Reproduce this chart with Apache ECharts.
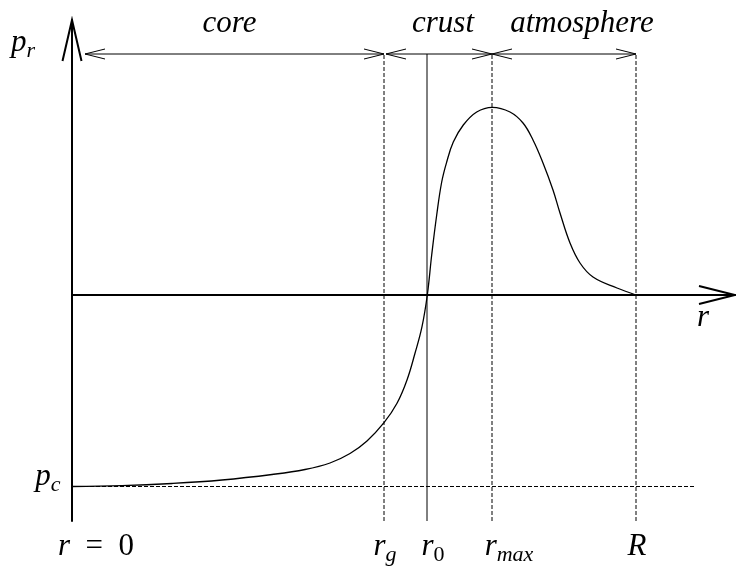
<!DOCTYPE html>
<html><head><meta charset="utf-8">
<script src="https://cdn.jsdelivr.net/npm/echarts@6/dist/echarts.min.js"></script>
<style>html,body{margin:0;padding:0;background:#fff}#c{width:736px;height:567px}</style>
</head><body><div id="c"></div>
<script>
// ---------- data ----------
const curveR = [0, 50, 100, 150, 200, 233, 258, 278, 295, 312, 325, 335, 343, 350, 355.3, 359.7, 364.7, 369.7, 374.7, 381.3, 391.3, 404.7, 420.3, 438, 451, 461, 471, 481, 488, 498, 508, 521, 545, 564];
const curveP = [-191.5, -190.7, -188.5, -185, -179.5, -174.5, -168, -158.5, -146, -127.7, -108.3, -85, -58.3, -31.7, 0, 40, 80, 113, 133, 153, 170, 183, 187.7, 183, 172, 155, 132, 105, 82, 52, 32, 18, 7, 0];
const boundaryR = [312, 355, 420, 564];          // r_g, r_0, r_max, R
const boundaryDashed = [true, false, true, true];
const pC = -191.5;
const regionNames = ['core', 'crust', 'atmosphere'];
const regionStart = [13, 314, 420];
const regionEnd = [312, 420, 564];
const topArrowP = 241;
const pcLineEnd = 624;
const axisRMax = 663, axisPMin = -226, axisPMax = 275;
const tickR = [0, 312, 355, 420, 564];
const tickParts = [
  [['r', 'i'], ['\u2002=\u20020', 'n']],
  [['r', 'i'], ['g', 's']],
  [['r', 'i'], ['0', 'sn']],
  [['r', 'i'], ['max', 's']],
  [['R', 'i']]
];

// ---------- layout ----------
const LAYOUT = {
  regionDx: [-5, 4, 18], regionDy: -30,
  tickDx: [24, 1, 6, 17, 1], tickY: 546.5,
  subDy: 9
};

const chart = echarts.init(document.getElementById('c'), null, {renderer: 'canvas'});
const K = '#000';
const series = [];
series.push({
  type: 'line', data: curveR.map((r, i) => [r, curveP[i]]), smooth: 0.4,
  showSymbol: false, lineStyle: {color: K, width: 1.3}, z: 5, silent: true
});
boundaryR.forEach((r, i) => series.push({
  type: 'line', data: [[r, axisPMin], [r, topArrowP]], showSymbol: false, silent: true,
  lineStyle: {color: K, width: 1, type: boundaryDashed[i] ? [4, 2] : 'solid'}
}));
series.push({
  type: 'line', data: [[0, pC], [pcLineEnd, pC]], showSymbol: false, silent: true,
  lineStyle: {color: K, width: 1, type: [4, 2]}
});
regionStart.forEach((s, i) => series.push({
  type: 'line', data: [[s, topArrowP], [regionEnd[i], topArrowP]], showSymbol: false, silent: true,
  lineStyle: {color: K, width: 1}
}));

chart.setOption({
  animation: false,
  backgroundColor: '#fff',
  grid: {left: 72, right: 1, top: 20, bottom: 46},
  xAxis: {type: 'value', min: 0, max: axisRMax, axisLine: {onZero: true, lineStyle: {color: K, width: 2}},
    axisTick: {show: false}, axisLabel: {show: false}, splitLine: {show: false}},
  yAxis: {type: 'value', min: axisPMin, max: axisPMax, axisLine: {onZero: true, lineStyle: {color: K, width: 2}},
    axisTick: {show: false}, axisLabel: {show: false}, splitLine: {show: false}},
  series
});

// ---------- annotations (computed through the chart's scales) ----------
const px = (r, p) => chart.convertToPixel({gridIndex: 0}, [r, p]);
const mctx = document.createElement('canvas').getContext('2d');
const FONTS = {
  i: 'italic 31px "Liberation Serif"',
  n: '31px "Liberation Serif"',
  s: 'italic 22px "Liberation Serif"',
  sn: '22px "Liberation Serif"'
};
function tw(t, f) { mctx.font = f; return mctx.measureText(t).width; }
function mathText(parts, cx, cy) {
  const total = parts.reduce((a, p) => a + tw(p[0], FONTS[p[1]]), 0);
  let x = cx - total / 2;
  const els = [];
  parts.forEach(p => {
    const f = FONTS[p[1]];
    const isSub = p[1] === 's' || p[1] === 'sn';
    els.push({type: 'text', x: x, y: cy + (isSub ? LAYOUT.subDy : 0), silent: true,
      style: {text: p[0], font: f, fill: K, align: 'left', verticalAlign: 'middle', textAlign: 'left', textVerticalAlign: 'middle'}});
    x += tw(p[0], f);
  });
  return els;
}
function chevron(tip, dx, dy, len, half, width) {
  const bx = tip[0] - dx * len, by = tip[1] - dy * len;
  const nx = -dy, ny = dx;
  return {type: 'polyline', silent: true, z: 10,
    shape: {points: [[bx + nx * half, by + ny * half], tip, [bx - nx * half, by - ny * half]]},
    style: {stroke: K, lineWidth: width, fill: null, lineJoin: 'miter'}};
}
const g = [];
// axis arrowheads
g.push(chevron(px(0, axisPMax), 0, -1, 41, 9.5, 2));
g.push(chevron(px(axisRMax, 0), 1, 0, 36, 9, 2));
// region arrows
regionStart.forEach((s, i) => {
  g.push(chevron(px(s, topArrowP), -1, 0, 20, 5, 1));
  g.push(chevron(px(regionEnd[i], topArrowP), 1, 0, 20, 5, 1));
  const a = px(s, topArrowP), b = px(regionEnd[i], topArrowP);
  g.push(...mathText([[regionNames[i], 'i']], (a[0] + b[0]) / 2 + LAYOUT.regionDx[i], a[1] + LAYOUT.regionDy));
});
// tick labels
tickR.forEach((r, i) => {
  const p = px(r, 0);
  g.push(...mathText(tickParts[i], p[0] + LAYOUT.tickDx[i], LAYOUT.tickY));
});
// axis labels
const yTop = px(0, axisPMax);
g.push(...mathText([['p', 'i'], ['r', 's']], yTop[0] - 49, yTop[1] + 22.5));
const pcPx = px(0, pC);
g.push(...mathText([['p', 'i'], ['c', 's']], pcPx[0] - 24, pcPx[1] - 10));
const xEnd = px(axisRMax, 0);
g.push(...mathText([['r', 'i']], xEnd[0] - 32, xEnd[1] + 22.5));
chart.setOption({graphic: g});
</script>
</body></html>
